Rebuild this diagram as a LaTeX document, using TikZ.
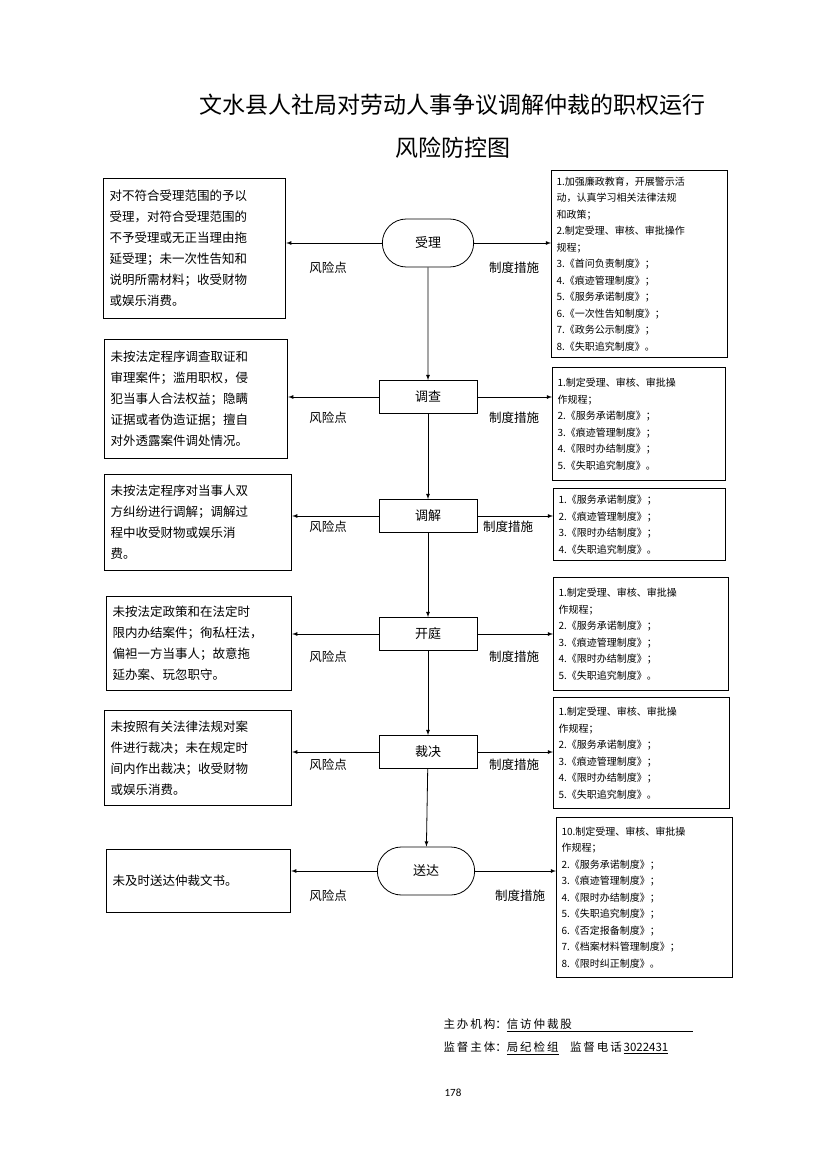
\documentclass[tikz,border=0pt]{standalone}
\usepackage{fontspec}
\setmainfont{Carlito}
\newfontfamily\cjk{Noto Sans CJK SC}
\usetikzlibrary{positioning,shapes.misc}
\tikzset{
  stage/.style={draw,line width=0.8pt,minimum width=98pt,minimum height=33pt,font=\cjk\fontsize{13}{15}\selectfont},
  stadium/.style={stage,rounded rectangle,minimum height=48pt},
  risk/.style={draw,line width=1.2pt,anchor=north west,inner sep=6pt,align=left,font=\cjk\fontsize{12.5}{21}\selectfont},
  rule/.style={draw,line width=1.2pt,anchor=north west,inner sep=5pt,align=left,font=\cjk\fontsize{10}{16.5}\selectfont},
  tag/.style={font=\cjk\fontsize{12.5}{14}\selectfont},
  flow/.style={-latex,line width=0.8pt}
}
\begin{document}
\begin{tikzpicture}[x=1pt,y=-1pt]
  \useasboundingbox (0,0) rectangle (827,1169);

  \node[font=\cjk\fontsize{23}{26}\selectfont] (title1) at (452,105) {文水县人社局对劳动人事争议调解仲裁的职权运行};
  \node[font=\cjk\fontsize{23}{26}\selectfont] (title2) at (453,148) {风险防控图};

  % stages
  \node[stadium] (s1) at (428,243) {受理};
  \node[stage] (s2) at (428,397) {调查};
  \node[stage] (s3) at (428,516) {调解};
  \node[stage] (s4) at (428,634) {开庭};
  \node[stage] (s5) at (428,752) {裁决};
  \node[stadium,minimum width=104pt] (s6) at (426,871) {送达};

  % risk points
  \node[risk,text width=170pt,minimum height=140pt] (r1) at (103,178) {对不符合受理范围的予以\\受理，对符合受理范围的\\不予受理或无正当理由拖\\延受理；未一次性告知和\\说明所需材料；收受财物\\或娱乐消费。};
  \node[risk,text width=171pt,minimum height=119pt] (r2) at (104,339) {未按法定程序调查取证和\\审理案件；滥用职权，侵\\犯当事人合法权益；隐瞒\\证据或者伪造证据；擅自\\对外透露案件调处情况。};
  \node[risk,text width=175pt,minimum height=96pt] (r3) at (104,474) {未按法定程序对当事人双\\方纠纷进行调解；调解过\\程中收受财物或娱乐消\\费。};
  \node[risk,text width=173pt,minimum height=94pt] (r4) at (106,596) {未按法定政策和在法定时\\限内办结案件；徇私枉法，\\偏袒一方当事人；故意拖\\延办案、玩忽职守。};
  \node[risk,text width=175pt,minimum height=95pt] (r5) at (104,710) {未按照有关法律法规对案\\件进行裁决；未在规定时\\间内作出裁决；收受财物\\或娱乐消费。};
  \node[risk,text width=172pt,minimum height=63pt] (r6) at (106,849) {未及时送达仲裁文书。\\[25pt]};

  % measures
  \node[rule,text width=166pt,minimum height=187pt] (m1) at (551,170) {1.加强廉政教育，开展警示活\\动，认真学习相关法律法规\\和政策；\\2.制定受理、审核、审批操作\\规程；\\3.《首问负责制度》；\\4.《痕迹管理制度》；\\5.《服务承诺制度》；\\6.《一次性告知制度》；\\7.《政务公示制度》；\\8.《失职追究制度》。};
  \node[rule,text width=163pt,minimum height=113pt] (m2) at (552,367) {1.制定受理、审核、审批操\\作规程；\\2.《服务承诺制度》；\\3.《痕迹管理制度》；\\4.《限时办结制度》；\\5.《失职追究制度》。};
  \node[rule,text width=162pt,minimum height=72pt] (m3) at (553,488) {1.《服务承诺制度》；\\2.《痕迹管理制度》；\\3.《限时办结制度》；\\4.《失职追究制度》。};
  \node[rule,text width=165pt,minimum height=113pt] (m4) at (553,577) {1.制定受理、审核、审批操\\作规程；\\2.《服务承诺制度》；\\3.《痕迹管理制度》；\\4.《限时办结制度》；\\5.《失职追究制度》。};
  \node[rule,text width=166pt,minimum height=111pt] (m5) at (553,697) {1.制定受理、审核、审批操\\作规程；\\2.《服务承诺制度》；\\3.《痕迹管理制度》；\\4.《限时办结制度》；\\5.《失职追究制度》。};
  \node[rule,text width=166pt,minimum height=160pt] (m6) at (556,817) {10.制定受理、审核、审批操\\作规程；\\2.《服务承诺制度》；\\3.《痕迹管理制度》；\\4.《限时办结制度》；\\5.《失职追究制度》；\\6.《否定报备制度》；\\7.《档案材料管理制度》；\\8.《限时纠正制度》。};

  % main flow
  \draw[flow] (s1) -- (s2);
  \draw[flow] (s2) -- (s3);
  \draw[flow] (s3) -- (s4);
  \draw[flow] (s4) -- (s5);
  \draw[flow] (s5) -- (s6);

  % side arrows
  \foreach \i in {1,...,6} {
    \draw[flow] (s\i.west) -- (s\i.west -| r\i.east);
    \draw[flow] (s\i.east) -- (s\i.east -| m\i.west);
  }
  \foreach \i/\y in {1/268,2/418,3/527,4/657,5/765,6/896} {
    \node[tag] (p\i) at (328,\y) {风险点};
  }
  \foreach \i/\x/\y in {1/514/268,2/514/418,3/508/527,4/514/657,5/514/765,6/520/896} {
    \node[tag] (c\i) at (\x,\y) {制度措施};
  }

  % footer
  \node[anchor=west,font=\cjk\fontsize{11.5}{13}\selectfont] (org) at (440,1025) {主\,办\,机\,构：\underline{信\,访\,仲\,裁\,股\hspace{10.5em}}};
  \node[anchor=west,font=\cjk\fontsize{11.5}{13}\selectfont] (sup) at (440,1048) {监\,督\,主\,体：\underline{局\,纪\,检\,组}\quad 监\,督\,电\,话\,\underline{3022431}};
  \node[font=\fontsize{11}{13}\selectfont] (page) at (453,1093) {178};
\end{tikzpicture}
\end{document}
